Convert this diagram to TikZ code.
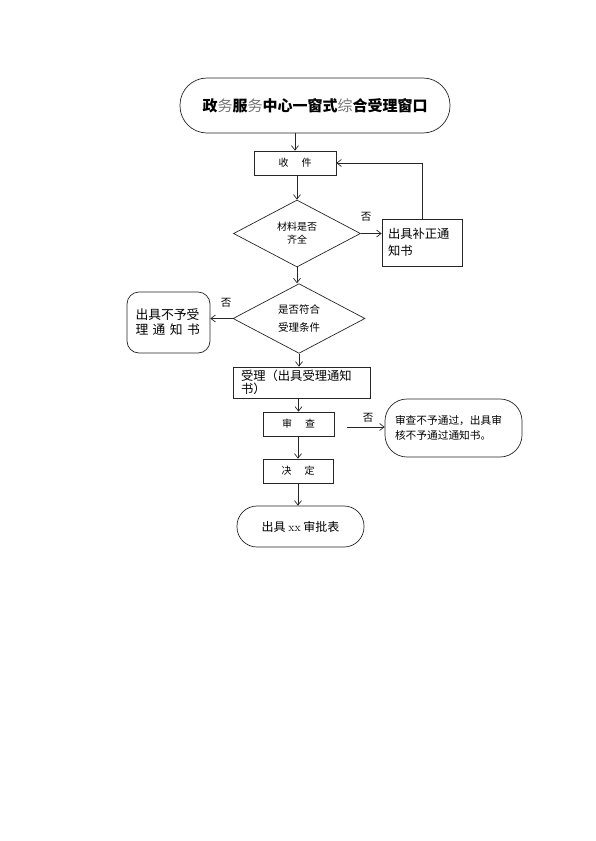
\documentclass[tikz,border=0pt]{standalone}
\usepackage{fontspec}
\newfontfamily\cjk{Noto Sans CJK SC}
\usetikzlibrary{shapes.geometric,arrows.meta}
\tikzset{
  ln/.style={line width=0.7pt, draw=black!85},
  arr/.style={ln, -{Straight Barb[length=4.5pt,width=7pt]}},
  box/.style={ln, rectangle, inner sep=0pt},
  dia/.style={ln, diamond, inner sep=0pt, align=center},
  rbox/.style={ln, rectangle, rounded corners=#1, inner sep=0pt},
  fs/.style 2 args={font=\cjk\fontsize{#1}{#2}\selectfont},
  lbl/.style={fs={10.5}{11}, inner sep=0pt}
}
\begin{document}
\begin{tikzpicture}[x=1pt,y=-1pt]
\fill[white] (0,0) rectangle (595,841);
\useasboundingbox (0,0) rectangle (595,841);

% title
\node[rbox=27pt, minimum width=270pt, minimum height=55pt, fs={15}{16}] (title) at (315,105.5)
  {\bfseries 政\textcolor{black!55}{\mdseries 务}服\textcolor{black!55}{\mdseries 务}中心一窗式\textcolor{black!55}{\mdseries 综}合受理窗口};

% main column
\node[box, minimum width=82pt, minimum height=24pt, fs={10}{12}] (shou) at (295,163) {收\hspace{13pt}件};
\node[dia, minimum width=127pt, minimum height=67pt, fs={10}{13}] (d1) at (297,233.5) {材料是否\\齐全};
\node[box, minimum width=80pt, minimum height=47pt, text width=68pt, align=left, inner xsep=6pt, fs={12.3}{17}] (bu) at (422,242.5) {出具补正通\\知书};
\node[dia, minimum width=132pt, minimum height=63pt, fs={10.5}{18}] (d2) at (299,318.5) {是否符合\\受理条件};
\node[rbox=12pt, minimum width=83pt, minimum height=61pt, text width=66pt, align=left, inner xsep=8.5pt, fs={12.8}{15}] (buyu) at (168.5,322.5)
  {出具不予受\\理\hspace{4.4pt}通\hspace{4.4pt}知\hspace{4.4pt}书};
\node[box, minimum width=137pt, minimum height=31pt, text width=121pt, align=left, inner xsep=8pt, fs={12.3}{13.5}] (shouli) at (301.5,382.5)
  {受理（出具受理通知\\书）};
\node[box, minimum width=71pt, minimum height=24pt, fs={10}{12}] (shencha) at (298.5,424) {审\hspace{13pt}查};
\node[rbox=22pt, minimum width=137pt, minimum height=58pt, text width=117pt, align=left, inner xsep=10pt, fs={10.7}{15}] (fou) at (453.5,428)
  {审查不予通过，出具审\\核不予通过通知书。};
\node[box, minimum width=70pt, minimum height=24pt, fs={10}{12}] (jue) at (298,471) {决\hspace{13pt}定};
\node[rbox=20pt, minimum width=127pt, minimum height=41pt, fs={12}{14}] (final) at (300.5,526.5) {出具 \textrm{xx} 审批表};

\coordinate (sfree) at (347,427);

% connectors
\draw[arr] (title.south -| shou.north) -- (shou.north);
\draw[arr] (shou.south -| d1.north) -- (d1.north);
\draw[arr] (d1.east) -- (d1.east -| bu.west);
\draw[arr] (bu.north) |- (shou.east);
\draw[arr] (d1.south) -- (d1.south |- d2.north);
\draw[arr] (d2.west) -- (d2.west -| buyu.east);
\draw[arr] (d2.south) -- (d2.south |- shouli.north);
\draw[arr] (shouli.south -| shencha.north) -- (shencha.north);
\draw[arr] (sfree) -- (sfree -| fou.west);
\draw[arr] (shencha.south -| jue.north) -- (jue.north);
\draw[arr] (jue.south) -- (jue.south |- final.north);

% labels
\node[lbl] (l1) at (366,217) {否};
\node[lbl] (l2) at (226,303) {否};
\node[lbl] (l3) at (368,418) {否};
\end{tikzpicture}
\end{document}
